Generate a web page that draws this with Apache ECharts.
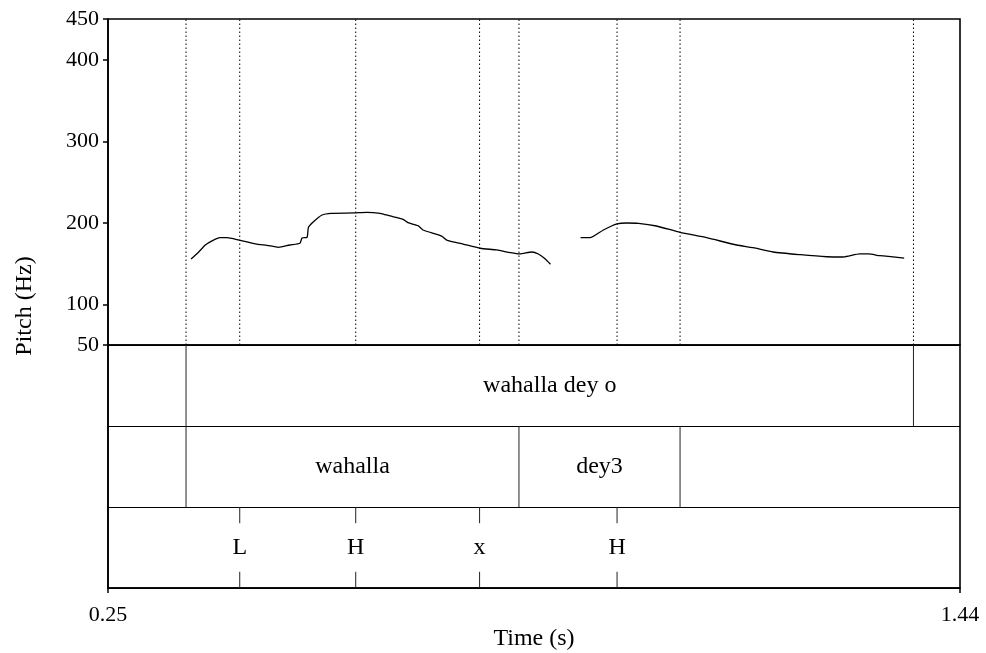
<!DOCTYPE html>
<html>
<head>
<meta charset="utf-8">
<script src="https://cdn.jsdelivr.net/npm/echarts@6/dist/echarts.min.js"></script>
<style>
html,body{margin:0;padding:0;background:#fff;}
#chart{width:986px;height:653px;}
</style>
</head>
<body>
<div id="chart"></div>
<script>
// ---- data ----
const timeRange = [0.25, 1.44];
const pitchRange = [50, 450];
const pitchTicks = [50, 100, 200, 300, 400, 450];
const timeTicks = [0.25, 1.44];

const pitchTimeA = [0.366,0.376,0.386,0.396,0.406,0.416,0.433,0.458,0.472,0.488,0.504,0.518,0.521,0.528,0.530,0.537,0.549,0.562,0.593,0.611,0.630,0.644,0.662,0.669,0.683,0.690,0.716,0.723,0.746,0.770,0.793,0.812,0.825,0.842,0.851,0.860,0.868];
const pitchHzA   = [155.5,163.5,172.7,178.0,181.7,181.7,178.8,173.9,172.3,169.9,172.7,174.8,181.3,182.1,194.4,201.3,209.5,211.6,212.0,212.8,211.6,208.3,204.2,200.1,196.4,191.1,183.7,178.8,173.9,168.7,166.6,163.3,161.7,164.1,161.7,156.0,149.0];
const pitchTimeB = [0.910,0.923,0.942,0.961,0.974,0.991,1.016,1.049,1.086,1.128,1.151,1.179,1.217,1.254,1.277,1.300,1.312,1.328,1.362];
const pitchHzB   = [181.7,181.7,191.1,198.5,199.7,199.3,196.0,188.3,181.7,172.7,169.4,164.1,160.8,158.3,158.0,161.7,161.7,159.6,156.7];

const tier1Bounds = [0.359, 1.375];
const tier1Labels = ["", "wahalla dey o", ""];
const tier2Bounds = [0.359, 0.824, 1.049];
const tier2Labels = ["", "wahalla", "dey3", ""];
const tier3Points = [0.434, 0.596, 0.769, 0.961];
const tier3Labels = ["L", "H", "x", "H"];

// ---- build ----
const FONT = '"Liberation Serif","Times New Roman",serif';
const FS_TICK = 22;
const FS_TEXT = 24;

const pitchData = pitchTimeA.map((t,i)=>[t,pitchHzA[i]])
  .concat([[null,null]])
  .concat(pitchTimeB.map((t,i)=>[t,pitchHzB[i]]));

const dottedTimes = [...new Set([...tier1Bounds, ...tier2Bounds, ...tier3Points])].sort((a,b)=>a-b);

// tiers: y index top/bottom in grid1 (0..3)
const boundaryItems = [];
tier1Bounds.forEach(t=>boundaryItems.push([t,2,3]));
tier2Bounds.forEach(t=>boundaryItems.push([t,1,2]));
tier3Points.forEach(t=>{ boundaryItems.push([t,0.8,1]); boundaryItems.push([t,0,0.2]); });

function intervalLabels(bounds, labels, row){
  const edges = [timeRange[0], ...bounds, timeRange[1]];
  const out = [];
  labels.forEach((lab,i)=>{ if(lab) out.push([(edges[i]+edges[i+1])/2, row, lab]); });
  return out;
}
const textItems = []
  .concat(intervalLabels(tier1Bounds, tier1Labels, 2.5))
  .concat(intervalLabels(tier2Bounds, tier2Labels, 1.5))
  .concat(tier3Points.map((t,i)=>[t,0.5,tier3Labels[i]]));

const chart = echarts.init(document.getElementById('chart'), null, {renderer:'canvas'});
const option = {
  animation:false,
  backgroundColor:'#fff',
  textStyle:{fontFamily:FONT},
  grid:[
    {left:108, width:852, top:19, height:326, show:true, borderColor:'#000', borderWidth:1.6, containLabel:false},
    {left:108, width:852, top:345, height:243, show:true, borderColor:'#000', borderWidth:1.6, containLabel:false}
  ],
  xAxis:[
    {type:'value', gridIndex:0, min:timeRange[0], max:timeRange[1], show:false, splitLine:{show:false}},
    {type:'value', gridIndex:1, min:timeRange[0], max:timeRange[1],
      name:'Time (s)', nameLocation:'middle', nameGap:36,
      nameTextStyle:{fontFamily:FONT, fontSize:FS_TEXT, color:'#000'},
      axisLine:{show:true, lineStyle:{color:'#000', width:1.6}},
      axisTick:{show:true, length:5, lineStyle:{color:'#000', width:1.5}, customValues:timeTicks},
      axisLabel:{show:true, margin:16, fontFamily:FONT, fontSize:FS_TICK, color:'#000', customValues:timeTicks,
        formatter:v=>v.toFixed(2)},
      splitLine:{show:false}}
  ],
  yAxis:[
    {type:'value', gridIndex:0, min:pitchRange[0], max:pitchRange[1],
      axisLine:{show:true, lineStyle:{color:'#000', width:1.6}},
      axisTick:{show:true, length:5, lineStyle:{color:'#000', width:1.5}, customValues:pitchTicks},
      axisLabel:{show:true, margin:9, fontFamily:FONT, fontSize:FS_TICK, color:'#000', customValues:pitchTicks},
      splitLine:{show:false}},
    {type:'value', gridIndex:1, min:0, max:3, interval:1,
      axisLine:{show:true, lineStyle:{color:'#000', width:1.6}},
      axisTick:{show:false}, axisLabel:{show:false},
      splitLine:{show:true, lineStyle:{color:'#000', width:1.2}}}
  ],
  graphic:[
    {type:'text', x:25, y:306, rotation:Math.PI/2,
      style:{text:'Pitch (Hz)', fontFamily:FONT, fontSize:FS_TEXT, fill:'#000', align:'center', verticalAlign:'middle'}}
  ],
  series:[
    {type:'custom', xAxisIndex:0, yAxisIndex:0, data:dottedTimes.map(t=>[t]), silent:true,
      renderItem:(params, api)=>{
        const p1 = api.coord([api.value(0), pitchRange[0]]);
        const p2 = api.coord([api.value(0), pitchRange[1]]);
        return {type:'line', shape:{x1:p1[0], y1:p1[1], x2:p2[0], y2:p2[1]},
          style:{stroke:'#000', lineWidth:1, lineDash:[1.5,2.5]}};
      }},
    {type:'line', xAxisIndex:0, yAxisIndex:0, data:pitchData, showSymbol:false, connectNulls:false,
      smooth:0.2, lineStyle:{color:'#000', width:1.3}, silent:true},
    {type:'custom', xAxisIndex:1, yAxisIndex:1, data:boundaryItems, silent:true,
      renderItem:(params, api)=>{
        const p1 = api.coord([api.value(0), api.value(1)]);
        const p2 = api.coord([api.value(0), api.value(2)]);
        return {type:'line', shape:{x1:p1[0], y1:p1[1], x2:p2[0], y2:p2[1]},
          style:{stroke:'#222', lineWidth:1}};
      }},
    {type:'custom', xAxisIndex:1, yAxisIndex:1, data:textItems, silent:true,
      renderItem:(params, api)=>{
        const p = api.coord([api.value(0), api.value(1)]);
        return {type:'text', x:p[0], y:p[1],
          style:{text:textItems[params.dataIndex][2], fontFamily:FONT, fontSize:FS_TEXT, fill:'#000',
            align:'center', verticalAlign:'middle'}};
      }}
  ]
};
chart.setOption(option);
</script>
</body>
</html>
